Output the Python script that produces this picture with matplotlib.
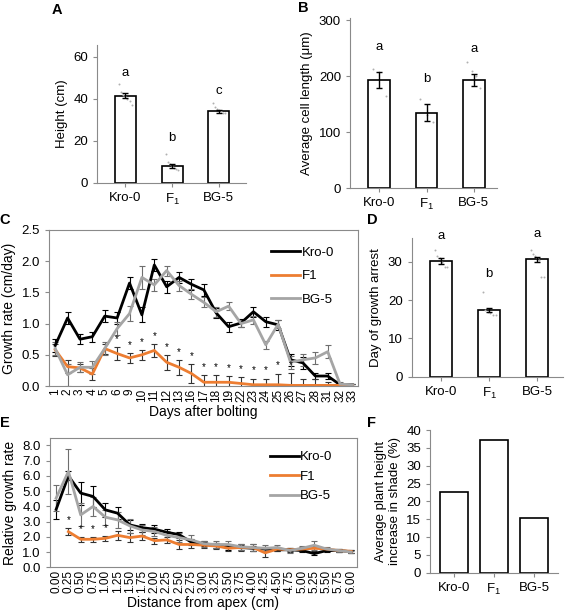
import numpy as np
import matplotlib.pyplot as plt
from matplotlib.lines import Line2D

plt.rcParams['font.family'] = ['Liberation Sans', 'DejaVu Sans']
plt.rcParams['mathtext.default'] = 'regular'
plt.rcParams['font.size'] = 9

genotypes = ['Kro-0', 'F$_1$', 'BG-5']

# A - plant height
height_mean = [41.5, 8.1, 34.0]
height_err = [1.0, 0.9, 0.8]
height_pts = [[47, 43, 42, 41.5, 40, 39, 37],
              [13.5, 10, 9, 8, 7, 6.5, 6],
              [38, 36, 35, 34.5, 34, 33, 33]]
height_letters = ['a', 'b', 'c']
height_letter_y = [49.4, 18.4, 41.0]

# B - cell length
cell_mean = [193, 135, 193]
cell_err = [15, 15, 10]
cell_pts = [[213, 208, 165], [160, 130, 118], [225, 210, 200, 178]]
cell_letters = ['a', 'b', 'a']
cell_letter_y = [241, 184, 238]

# D - day of growth arrest
arrest_mean = [30.2, 17.5, 30.6]
arrest_err = [0.7, 0.5, 0.7]
arrest_pts = [[33, 31.5, 31, 30, 28.5, 28.5],
              [22, 17.5, 17, 16.5, 16, 16],
              [33, 32, 31.5, 31, 30.5, 26, 26]]
arrest_letters = ['a', 'b', 'a']
arrest_letter_y = [35.2, 25.2, 35.6]

# F - shade response
shade_increase = [22.5, 37.2, 15.2]

# C - growth rate after bolting
days = [1, 2, 3, 4, 5, 6, 9, 10, 11, 12, 13, 16, 17, 18, 19, 22, 23, 24, 25, 26, 27, 28, 31, 32, 33]
kro_rate = [0.65, 1.09, 0.75, 0.79, 1.12, 1.09, 1.65, 1.14, 1.94, 1.59, 1.74, 1.63, 1.54,
            1.17, 0.95, 1.01, 1.19, 1.03, 0.98, 0.42, 0.37, 0.16, 0.16, 0.02, 0.02]
kro_rate_err = [0.1, 0.1, 0.08, 0.08, 0.1, 0.1, 0.1, 0.12, 0.1, 0.1, 0.09, 0.09, 0.09,
                0.08, 0.08, 0.06, 0.08, 0.08, 0.08, 0.1, 0.1, 0.05, 0.05, 0.02, 0.02]
f1_rate = [0.58, 0.31, 0.29, 0.19, 0.6, 0.52, 0.45, 0.5, 0.57, 0.38, 0.3, 0.2, 0.06,
           0.06, 0.06, 0.04, 0.02, 0.02, 0.02, 0.01, 0.01, 0.01, 0.01, 0.01, 0.01]
f1_rate_err = [0.1, 0.1, 0.06, 0.1, 0.08, 0.1, 0.08, 0.08, 0.1, 0.12, 0.12, 0.15, 0.12,
               0.12, 0.1, 0.1, 0.1, 0.1, 0.18, 0.2, 0.1, 0.1, 0.05, 0.03, 0.02]
bg_rate = [0.6, 0.18, 0.3, 0.3, 0.6, 0.92, 1.16, 1.74, 1.62, 1.85, 1.61, 1.47, 1.34,
           1.19, 1.28, 1.0, 1.06, 0.66, 0.99, 0.38, 0.42, 0.45, 0.55, 0.03, 0.02]
bg_rate_err = [0.1, 0.18, 0.08, 0.1, 0.1, 0.1, 0.12, 0.18, 0.1, 0.08, 0.08, 0.08, 0.08,
               0.08, 0.06, 0.06, 0.06, 0.06, 0.06, 0.1, 0.1, 0.1, 0.1, 0.03, 0.02]
rate_signif = [i for i in range(5, 20)]

# E - relative growth rate along the stem
distance = [f'{d:.2f}' for d in np.arange(0, 6.01, 0.25)]
kro_rel = [3.8, 6.0, 4.87, 4.65, 3.77, 3.55, 2.78, 2.6, 2.5, 2.3, 2.15, 1.65, 1.55,
           1.45, 1.3, 1.3, 1.25, 1.2, 1.15, 1.15, 1.1, 0.9, 1.1, 1.1, 1.03]
kro_rel_err = [0.6, 0.3, 0.75, 0.7, 0.45, 0.4, 0.35, 0.25, 0.25, 0.2, 0.2, 0.2, 0.15,
               0.15, 0.15, 0.15, 0.15, 0.15, 0.1, 0.1, 0.1, 0.1, 0.1, 0.1, 0.08]
f1_rel = [np.nan, 2.34, 1.84, 1.84, 1.9, 2.1, 1.95, 2.05, 1.75, 1.8, 1.5, 1.5, 1.45,
          1.4, 1.25, 1.3, 1.3, 0.95, 1.2, 1.15, 1.2, 1.25, 1.2, 1.1, 1.05]
f1_rel_err = [np.nan, 0.25, 0.15, 0.15, 0.15, 0.3, 0.3, 0.25, 0.2, 0.2, 0.3, 0.25, 0.2,
              0.2, 0.2, 0.2, 0.2, 0.25, 0.15, 0.15, 0.15, 0.15, 0.1, 0.1, 0.08]
bg_rel = [4.54, 6.29, 3.44, 3.99, 3.29, 3.11, 2.72, 2.45, 2.35, 2.1, 1.95, 1.8, 1.55,
          1.5, 1.5, 1.35, 1.3, 1.25, 1.3, 1.1, 1.25, 1.45, 1.2, 1.1, 1.0]
bg_rel_err = [0.85, 1.45, 0.75, 0.6, 0.5, 0.5, 0.45, 0.3, 0.3, 0.3, 0.3, 0.3, 0.2,
              0.2, 0.2, 0.2, 0.2, 0.2, 0.15, 0.15, 0.15, 0.3, 0.15, 0.1, 0.08]
rel_signif = [1, 2, 3, 4]

ORANGE = '#ED7D31'
GREY = '#A5A5A5'
SPINE = '#8a8a8a'

fig = plt.figure(figsize=(5.66, 6.13), dpi=100)


def bar_panel(ax, means, errs, pts, letters, letter_y, ylim, yticks, ylabel, xlim, width):
    x = np.arange(len(means))
    ax.bar(x, means, width=width, color='white', edgecolor='black', linewidth=1.2, zorder=2)
    if errs is not None:
        ax.errorbar(x, means, yerr=errs, fmt='none', ecolor='black', elinewidth=1,
                    capsize=2.5, capthick=1, zorder=4)
    if pts is not None:
        for i, p in enumerate(pts):
            off = np.linspace(-width * 0.3, width * 0.3, len(p))
            ax.scatter(i + off, p, s=2, color='#b0b0b0', zorder=3, linewidths=0)
    if letters is not None:
        for i, (l, y) in enumerate(zip(letters, letter_y)):
            ax.text(i, y, l, ha='center', va='bottom', fontsize=9.5)
    ax.set_xlim(*xlim)
    ax.set_ylim(*ylim)
    ax.set_yticks(yticks)
    ax.set_xticks(x)
    ax.set_xticklabels(genotypes, fontsize=10)
    ax.set_ylabel(ylabel, fontsize=9.5)
    for s in ['top', 'right']:
        ax.spines[s].set_visible(False)
    for s in ['left', 'bottom']:
        ax.spines[s].set_color(SPINE)
    ax.tick_params(color=SPINE, length=3, labelsize=9.5)


# A
axA = fig.add_axes([0.1719, 0.702, 0.2627, 0.2246])
bar_panel(axA, height_mean, height_err, height_pts, height_letters, height_letter_y,
          (0, 65.6), [0, 20, 40, 60], 'Height (cm)', (-0.6, 2.58), 0.45)

# B
axB = fig.add_axes([0.6184, 0.6928, 0.2597, 0.2773])
bar_panel(axB, cell_mean, cell_err, cell_pts, cell_letters, cell_letter_y,
          (0, 303), [0, 100, 200, 300], 'Average cell length (μm)', (-0.62, 2.49), 0.46)

# D
axD = fig.add_axes([0.7274, 0.3855, 0.2673, 0.2258])
bar_panel(axD, arrest_mean, arrest_err, arrest_pts, arrest_letters, arrest_letter_y,
          (0, 36.1), [0, 10, 20, 30], 'Day of growth arrest', (-0.61, 2.54), 0.45)

# F
axF = fig.add_axes([0.7597, 0.0657, 0.2261, 0.2328])
bar_panel(axF, shade_increase, None, None, None, None,
          (0, 40), list(range(0, 41, 5)), 'Average plant height\nincrease in shade (%)',
          (-0.6, 2.6), 0.69)


def line_panel(ax, labels, series, signif, ylim, yticks, ylabel, xlabel, fmt):
    x = np.arange(len(labels))
    for vals, errs, col, ecol, name in series:
        ax.errorbar(x, vals, yerr=errs, color=col, lw=2, ecolor=ecol, elinewidth=0.8,
                    capsize=2, capthick=0.8)
    f1_vals, f1_errs = series[1][0], series[1][1]
    for i in signif:
        ax.text(i, f1_vals[i] + f1_errs[i] + 0.02 * (ylim[1] - ylim[0]), '*',
                ha='center', va='bottom', fontsize=7)
    ax.set_xlim(-0.5, len(labels) - 0.55)
    ax.set_ylim(*ylim)
    ax.set_yticks(yticks)
    ax.set_yticklabels([fmt.format(v) for v in yticks])
    ax.set_xticks(x)
    ax.set_xticklabels(labels, rotation=90)
    ax.set_ylabel(ylabel, fontsize=10)
    ax.set_xlabel(xlabel, fontsize=10, labelpad=2)
    for s in ax.spines.values():
        s.set_color(SPINE)
    ax.tick_params(axis='y', color=SPINE, length=3, labelsize=9.5)
    ax.tick_params(axis='x', length=0, pad=2, labelsize=8.5)
    handles = [Line2D([], [], color=s[2], lw=2) for s in series]
    return handles, [s[4] for s in series]


# C
axC = fig.add_axes([0.0866, 0.3703, 0.546, 0.2545])
h, l = line_panel(axC, [str(d) for d in days],
                  [(kro_rate, kro_rate_err, 'black', 'black', 'Kro-0'),
                   (f1_rate, f1_rate_err, ORANGE, '#333333', 'F1'),
                   (bg_rate, bg_rate_err, GREY, '#6e6e6e', 'BG-5')],
                  rate_signif, (0, 2.5), [0, 0.5, 1.0, 1.5, 2.0, 2.5],
                  'Growth rate (cm/day)', 'Days after bolting', '{:.1f}')
axC.legend(h, l, loc='upper right', bbox_to_anchor=(0.96, 0.97), frameon=False,
           handlelength=2.2, handletextpad=0.1, labelspacing=0.85, fontsize=9.5)

# E
axE = fig.add_axes([0.0883, 0.0745, 0.542, 0.2114])
h, l = line_panel(axE, distance,
                  [(kro_rel, kro_rel_err, 'black', 'black', 'Kro-0'),
                   (f1_rel, f1_rel_err, ORANGE, '#333333', 'F1'),
                   (bg_rel, bg_rel_err, GREY, '#6e6e6e', 'BG-5')],
                  rel_signif, (0, 8.5), [0, 1, 2, 3, 4, 5, 6, 7, 8],
                  'Relative growth rate', 'Distance from apex (cm)', '{:.1f}')
axE.legend(h, l, loc='upper right', bbox_to_anchor=(0.96, 0.99), frameon=False,
           handlelength=2.2, handletextpad=0.1, labelspacing=0.55, fontsize=9.5)

# panel letters
for lab, xp, yp in [('A', 57, 10), ('B', 303, 8), ('C', 5, 220), ('D', 372, 220),
                    ('E', 5, 423), ('F', 372, 423)]:
    fig.text(xp / 566, 1 - yp / 613, lab, fontsize=10.5, fontweight='bold',
             ha='center', va='center')

fig.savefig('out.png', dpi=100)
